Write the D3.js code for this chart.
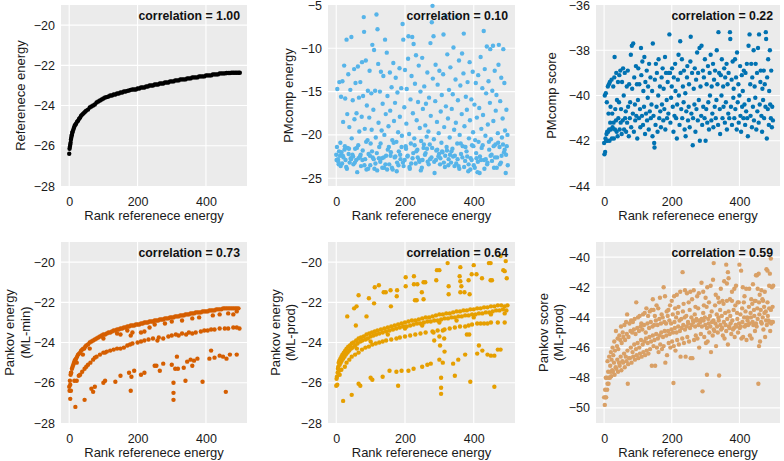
<!DOCTYPE html>
<html><head><meta charset="utf-8">
<script src="https://cdn.jsdelivr.net/npm/d3@7"></script>
<style>body{margin:0;background:#fff} svg text{font-family:"Liberation Sans",Arial,Helvetica,sans-serif}</style>
</head><body><svg id="c" width="784" height="461"></svg>
<script>
// ---------- DATA ----------
const xTicks = [0, 200, 400];
const xLabel = "Rank referenece energy";
const corrLabels = ["correlation = 1.00","correlation = 0.10","correlation = 0.22","correlation = 0.73","correlation = 0.64","correlation = 0.59"];
const refTicks = [-28,-26,-24,-22,-20];
const pmEnergyTicks = [-25,-20,-15,-10,-5];
const pmScoreTicks = [-44,-42,-40,-38,-36];
const pankovTicks = [-28,-26,-24,-22,-20];
const scoreTicks = [-50,-48,-46,-44,-42,-40];

// Panel 1: reference energy vs rank
const refEnergy = [[0,-26.4],[1,-26.15],[2,-26.05],[3,-25.95],[4,-25.85],[5,-25.7],[6,-25.6],[7,-25.5],[8,-25.45],[9,-25.35],[10,-25.3],[12,-25.2],[14,-25.1],[16,-25.0],[18,-24.95],[20,-24.9],[23,-24.8],[26,-24.75],[29,-24.65],[32,-24.6],[35,-24.5],[38,-24.45],[41,-24.4],[44,-24.35],[47,-24.3],[50,-24.25],[55,-24.2],[60,-24.1],[65,-24.05],[70,-24.0],[75,-23.95],[80,-23.85],[85,-23.8],[90,-23.75],[95,-23.7],[100,-23.65],[105,-23.6],[110,-23.58],[115,-23.55],[120,-23.5],[125,-23.5],[130,-23.45],[135,-23.45],[140,-23.4],[145,-23.4],[150,-23.35],[155,-23.35],[160,-23.3],[165,-23.3],[170,-23.27],[175,-23.25],[180,-23.22],[185,-23.2],[190,-23.2],[195,-23.2],[200,-23.15],[205,-23.15],[210,-23.1],[215,-23.1],[220,-23.1],[225,-23.05],[230,-23.05],[235,-23.0],[240,-23.0],[245,-23.0],[250,-22.95],[255,-22.95],[260,-22.95],[265,-22.9],[270,-22.9],[275,-22.9],[280,-22.85],[285,-22.85],[290,-22.85],[295,-22.8],[300,-22.8],[305,-22.8],[310,-22.75],[315,-22.75],[320,-22.75],[325,-22.7],[330,-22.7],[335,-22.7],[340,-22.7],[345,-22.65],[350,-22.65],[355,-22.65],[360,-22.6],[365,-22.6],[370,-22.6],[375,-22.6],[380,-22.55],[385,-22.55],[390,-22.55],[395,-22.55],[400,-22.5],[405,-22.5],[410,-22.5],[415,-22.5],[420,-22.45],[425,-22.45],[430,-22.45],[435,-22.45],[440,-22.4],[445,-22.4],[450,-22.4],[455,-22.4],[460,-22.38],[465,-22.38],[470,-22.38],[475,-22.37],[480,-22.37],[485,-22.37],[490,-22.37],[495,-22.37],[499,-22.37]];

// Panel 2: PMcomp energy
const pmcompEnergy = [[0,-22.3],[2,-21.4],[3,-14.7],[5,-22.8],[6,-23.1],[8,-21.9],[9,-13.9],[11,-22.4],[12,-20.9],[14,-15.6],[15,-22.0],[17,-23.3],[18,-13.8],[20,-18.5],[21,-22.6],[23,-12.0],[24,-21.7],[26,-15.8],[27,-22.9],[29,-23.7],[30,-9.0],[32,-17.6],[33,-21.5],[35,-13.0],[36,-22.2],[38,-19.1],[39,-23.2],[41,-14.8],[42,-22.7],[44,-8.7],[45,-20.4],[47,-22.3],[48,-16.0],[50,-23.4],[52,-12.4],[53,-18.2],[55,-21.6],[56,-14.0],[58,-22.9],[59,-17.5],[61,-24.3],[63,-12.1],[64,-21.2],[66,-15.7],[67,-19.6],[69,-22.5],[70,-13.9],[72,-23.6],[74,-17.9],[75,-11.6],[77,-21.8],[78,-15.5],[80,-6.4],[81,-8.1],[83,-19.3],[84,-22.8],[86,-11.4],[88,-24.0],[89,-16.6],[91,-20.6],[92,-14.9],[94,-22.2],[96,-18.0],[97,-12.6],[99,-23.5],[100,-21.0],[102,-15.2],[103,-19.4],[105,-9.6],[106,-22.6],[108,-17.1],[110,-10.2],[111,-23.9],[113,-14.9],[115,-20.3],[117,-6.1],[118,-22.1],[120,-7.8],[122,-11.8],[123,-18.6],[125,-21.4],[127,-15.0],[128,-23.1],[130,-12.7],[132,-19.5],[133,-22.7],[135,-16.4],[137,-13.2],[139,-23.8],[140,-20.0],[142,-9.0],[144,-17.6],[145,-22.4],[147,-10.5],[149,-15.5],[150,-21.7],[152,-19.0],[154,-23.4],[156,-12.8],[157,-17.2],[159,-22.0],[161,-14.5],[163,-20.6],[164,-24.0],[166,-11.7],[168,-18.4],[170,-22.6],[171,-16.3],[173,-13.4],[175,-20.8],[177,-23.2],[178,-15.1],[180,-19.7],[182,-21.9],[184,-12.3],[185,-17.9],[187,-22.8],[189,-14.6],[191,-20.1],[193,-7.2],[195,-9.0],[196,-23.6],[198,-16.8],[200,-12.5],[202,-21.3],[204,-18.7],[205,-14.7],[207,-22.5],[209,-11.2],[210,-8.6],[212,-19.9],[214,-23.9],[216,-15.9],[217,-21.0],[219,-13.2],[221,-8.7],[223,-17.5],[224,-22.1],[225,-9.5],[227,-20.4],[229,-14.1],[231,-23.3],[232,-10.8],[234,-18.3],[236,-21.7],[238,-16.2],[240,-12.0],[241,-22.9],[243,-19.2],[245,-15.0],[247,-20.7],[249,-23.8],[250,-11.1],[252,-17.0],[254,-21.5],[256,-14.4],[258,-22.3],[259,-18.9],[261,-16.4],[263,-20.2],[265,-12.8],[266,-23.1],[268,-19.6],[270,-15.7],[272,-21.1],[274,-9.4],[275,-17.8],[277,-22.6],[278,-7.0],[280,-5.1],[281,-13.5],[283,-8.6],[284,-20.5],[286,-24.4],[288,-16.1],[289,-11.9],[291,-21.8],[293,-18.5],[295,-14.2],[297,-22.5],[298,-19.8],[300,-12.6],[302,-23.4],[304,-17.3],[306,-20.9],[307,-15.4],[309,-22.0],[311,-13.0],[312,-8.4],[314,-19.1],[316,-23.7],[318,-6.3],[319,-16.7],[321,-21.4],[323,-10.7],[325,-18.1],[327,-22.8],[328,-14.8],[330,-20.3],[332,-12.2],[334,-23.2],[336,-17.0],[338,-21.6],[339,-15.3],[341,-9.9],[343,-19.4],[345,-22.4],[347,-13.6],[348,-18.6],[350,-6.4],[352,-21.0],[354,-16.0],[356,-23.6],[357,-11.4],[359,-20.0],[361,-14.3],[363,-22.2],[365,-17.6],[366,-10.6],[368,-21.3],[370,-12.9],[371,-8.3],[373,-19.0],[375,-23.0],[377,-15.6],[379,-21.9],[380,-17.1],[382,-13.9],[384,-24.2],[386,-20.4],[388,-11.6],[389,-18.3],[391,-22.7],[393,-15.9],[395,-21.2],[397,-12.7],[398,-19.7],[400,-23.5],[402,-16.5],[404,-20.6],[406,-14.0],[407,-22.1],[409,-18.0],[411,-24.3],[413,-13.1],[414,-20.8],[416,-16.9],[418,-22.5],[420,-11.0],[422,-19.3],[423,-21.5],[425,-14.6],[427,-17.7],[429,-8.0],[430,-22.9],[432,-12.4],[434,-20.1],[436,-15.2],[438,-9.8],[439,-23.4],[441,-18.8],[443,-13.8],[445,-21.7],[447,-16.3],[448,-10.1],[450,-20.5],[452,-22.3],[454,-14.9],[456,-9.7],[457,-18.4],[459,-23.8],[461,-12.6],[463,-21.1],[464,-17.2],[466,-15.4],[468,-22.6],[470,-19.8],[472,-11.9],[473,-9.6],[475,-21.4],[477,-16.1],[479,-23.2],[480,-13.4],[482,-20.3],[484,-18.1],[486,-10.1],[488,-22.0],[489,-14.0],[491,-19.5],[493,-24.4],[495,-17.1],[496,-21.3],[498,-20.0],
[1,-22.9],[7,-23.4],[13,-23.6],[19,-22.4],[25,-21.3],[31,-23.9],[37,-21.6],[43,-22.8],[49,-22.5],[54,-23.2],[60,-21.5],[65,-22.7],[71,-22.3],[76,-22.9],[82,-23.5],[87,-20.8],[93,-23.9],[98,-22.4],[104,-21.9],[109,-22.8],[114,-23.3],[119,-24.1],[124,-22.7],[129,-21.0],[134,-23.8],[138,-22.6],[143,-23.4],[148,-24.0],[153,-21.4],[158,-22.4],[162,-23.8],[167,-20.9],[172,-22.5],[176,-24.2],[181,-23.5],[186,-22.3],[190,-21.4],[194,-23.2],[199,-22.9],[203,-21.6],[208,-22.4],[213,-23.7],[218,-23.3],[222,-22.7],[228,-21.2],[233,-21.9],[237,-22.6],[242,-23.1],[246,-24.1],[251,-22.9],[255,-21.1],[260,-22.1],[264,-21.6],[269,-23.4],[273,-22.8],[279,-21.5],[285,-23.1],[290,-22.9],[294,-21.7],[299,-22.2],[303,-22.7],[308,-21.9],[313,-23.2],[317,-22.4],[322,-21.8],[326,-23.5],[331,-22.3],[335,-21.9],[340,-22.5],[344,-23.6],[349,-23.3],[353,-22.8],[358,-23.9],[362,-21.0],[367,-22.6],[372,-23.7],[376,-21.4],[381,-22.5],[385,-23.4],[390,-24.0],[394,-22.9],[399,-21.3],[403,-23.8],[408,-22.7],[412,-23.1],[417,-24.4],[421,-22.9],[426,-21.2],[431,-23.9],[435,-22.8],[440,-23.2],[444,-20.8],[449,-22.4],[453,-23.0],[458,-21.3],[462,-22.6],[467,-23.8],[471,-20.9],[476,-23.4],[481,-22.4],[485,-21.1],[490,-21.7],[494,-22.3],[499,-23.5]];

// Panel 3: PMcomp score
const pmcompScore = [[0,-42.1],[1,-42.6],[2,-40.0],[3,-42.5],[4,-41.9],[5,-39.9],[6,-42.0],[7,-41.7],[8,-40.3],[9,-41.6],[10,-42.0],[11,-39.6],[12,-41.6],[13,-40.8],[14,-39.5],[15,-41.5],[16,-42.0],[17,-39.4],[18,-41.2],[19,-40.5],[20,-41.5],[22,-39.3],[23,-41.9],[24,-40.8],[25,-41.4],[27,-39.6],[28,-41.2],[29,-41.9],[30,-39.2],[31,-38.3],[32,-41.5],[33,-40.6],[35,-41.1],[36,-39.0],[37,-41.6],[38,-40.2],[40,-41.8],[41,-39.4],[42,-41.0],[44,-40.3],[45,-39.1],[46,-41.5],[48,-38.9],[49,-41.2],[50,-40.6],[52,-41.7],[53,-39.4],[55,-41.1],[56,-38.8],[58,-40.0],[59,-41.5],[61,-39.0],[62,-41.0],[64,-40.7],[65,-41.6],[67,-39.6],[68,-41.2],[70,-38.9],[71,-40.5],[73,-41.8],[74,-39.5],[76,-41.0],[77,-40.3],[79,-38.2],[80,-41.4],[82,-37.8],[83,-39.7],[85,-40.8],[86,-37.7],[88,-41.6],[89,-39.2],[91,-40.4],[92,-41.1],[94,-38.7],[95,-40.9],[97,-39.5],[98,-41.9],[100,-40.2],[101,-38.8],[103,-41.0],[104,-39.5],[106,-40.6],[107,-41.4],[109,-37.9],[110,-39.1],[112,-40.9],[113,-38.5],[115,-41.3],[116,-39.8],[118,-40.5],[119,-38.3],[121,-41.7],[122,-39.4],[124,-40.8],[126,-38.9],[127,-41.1],[129,-40.1],[130,-39.6],[132,-41.5],[133,-38.6],[135,-40.7],[137,-39.2],[138,-41.0],[140,-40.4],[142,-39.8],[143,-41.8],[144,-37.7],[146,-40.9],[148,-42.1],[149,-42.3],[150,-39.3],[152,-41.3],[153,-38.6],[155,-40.5],[156,-39.0],[158,-41.6],[160,-40.0],[161,-38.4],[163,-41.0],[165,-39.6],[166,-40.7],[168,-41.4],[170,-39.2],[171,-40.4],[173,-38.8],[175,-41.1],[176,-39.7],[178,-40.6],[180,-38.3],[181,-41.5],[183,-39.0],[185,-40.2],[186,-41.0],[188,-39.4],[190,-40.8],[191,-39.0],[193,-37.3],[195,-39.0],[196,-41.2],[198,-40.1],[200,-39.6],[201,-38.8],[203,-40.5],[205,-41.6],[206,-39.2],[208,-40.9],[210,-38.6],[211,-39.8],[213,-41.0],[215,-41.9],[216,-40.4],[218,-39.3],[220,-38.2],[221,-40.0],[223,-41.3],[225,-37.6],[226,-39.0],[228,-40.6],[230,-38.4],[231,-41.0],[233,-39.6],[235,-40.3],[236,-38.9],[238,-41.5],[240,-39.9],[241,-41.8],[243,-40.7],[245,-39.2],[246,-38.7],[248,-41.1],[250,-40.5],[251,-39.5],[253,-41.4],[255,-38.5],[256,-37.4],[258,-40.8],[260,-39.0],[262,-42.2],[263,-41.0],[265,-39.7],[267,-40.4],[268,-38.8],[270,-41.6],[272,-39.3],[273,-40.6],[275,-38.1],[277,-41.1],[278,-39.0],[280,-40.2],[282,-37.9],[283,-42.0],[285,-39.6],[287,-40.9],[288,-37.8],[290,-41.3],[292,-38.9],[293,-40.5],[295,-39.2],[297,-41.0],[298,-38.4],[300,-42.0],[302,-40.6],[303,-39.5],[305,-41.2],[307,-38.7],[308,-40.3],[310,-41.5],[312,-39.0],[313,-40.0],[315,-38.2],[317,-41.1],[318,-39.6],[320,-40.8],[322,-38.6],[323,-41.4],[325,-39.3],[327,-40.5],[328,-38.9],[330,-41.0],[332,-40.2],[333,-38.0],[335,-39.5],[337,-41.3],[338,-37.2],[340,-39.0],[342,-40.6],[343,-41.7],[345,-39.1],[347,-40.0],[348,-38.4],[350,-41.0],[352,-39.6],[353,-40.5],[355,-38.8],[357,-41.2],[358,-39.2],[360,-40.3],[362,-38.6],[363,-41.5],[365,-39.5],[367,-40.8],[368,-39.0],[370,-41.0],[372,-37.2],[373,-37.5],[375,-40.5],[377,-39.3],[378,-41.3],[380,-38.5],[382,-40.1],[383,-39.7],[385,-41.0],[387,-38.4],[388,-40.6],[390,-39.2],[392,-41.5],[393,-38.1],[395,-40.3],[397,-39.5],[398,-41.2],[400,-40.0],[402,-38.7],[403,-40.9],[405,-41.6],[407,-39.1],[408,-40.5],[410,-39.8],[412,-41.0],[413,-38.9],[415,-40.4],[417,-41.3],[418,-39.0],[420,-40.7],[422,-38.6],[423,-41.0],[425,-41.8],[427,-37.8],[428,-40.2],[430,-37.3],[432,-39.5],[433,-40.9],[435,-38.6],[437,-41.4],[438,-39.2],[440,-40.5],[442,-38.0],[443,-41.1],[445,-39.6],[447,-40.1],[448,-38.6],[450,-41.5],[452,-39.0],[453,-40.7],[455,-37.9],[457,-41.2],[458,-37.3],[460,-40.4],[462,-39.4],[463,-38.9],[465,-40.9],[467,-41.6],[468,-39.7],[470,-40.2],[472,-38.9],[473,-41.0],[475,-39.5],[477,-40.5],[478,-37.2],[479,-37.5],[481,-41.9],[482,-39.2],[484,-40.6],[485,-38.4],[487,-41.3],[488,-39.8],[490,-38.0],[491,-40.4],[493,-41.0],[494,-38.9],[496,-41.4],[497,-40.5],[499,-41.1]];

// Panel 4: Pankov energy (ML-min)
const pankovMin = [[0,-26.2],[1,-26.4],[2,-25.9],[3,-26.1],[4,-25.6],[5,-25.5],[6,-25.5],[8,-25.3],[10,-25.2],[12,-25.1],[14,-25.0],[16,-24.9],[18,-24.85],[20,-24.8],[23,-24.7],[26,-24.6],[29,-24.55],[32,-24.5],[35,-24.4],[38,-24.35],[41,-24.3],[44,-24.3],[47,-24.2],[50,-24.15],[55,-24.1],[60,-24.0],[65,-23.95],[70,-23.9],[75,-23.85],[80,-23.8],[85,-23.75],[90,-23.7],[95,-23.65],[100,-23.6],[105,-23.6],[110,-23.55],[115,-23.5],[120,-23.5],[125,-23.45],[130,-23.4],[135,-23.4],[140,-23.35],[145,-23.35],[150,-23.3],[155,-23.3],[160,-23.25],[165,-23.25],[170,-23.2],[175,-23.2],[180,-23.15],[185,-23.15],[190,-23.15],[195,-23.1],[200,-23.1],[205,-23.1],[210,-23.05],[215,-23.05],[220,-23.0],[225,-23.0],[230,-23.0],[235,-22.95],[240,-22.95],[245,-22.95],[250,-22.9],[255,-22.9],[260,-22.9],[265,-22.85],[270,-22.85],[275,-22.85],[280,-22.8],[285,-22.8],[290,-22.8],[295,-22.75],[300,-22.75],[305,-22.75],[310,-22.7],[315,-22.7],[320,-22.7],[325,-22.65],[330,-22.65],[335,-22.65],[340,-22.6],[345,-22.6],[350,-22.6],[355,-22.55],[360,-22.55],[365,-22.55],[370,-22.5],[375,-22.5],[380,-22.5],[385,-22.5],[390,-22.45],[395,-22.45],[400,-22.45],[405,-22.45],[410,-22.4],[415,-22.4],[420,-22.4],[425,-22.4],[430,-22.35],[435,-22.35],[440,-22.35],[445,-22.35],[450,-22.3],[455,-22.3],[460,-22.3],[465,-22.3],[470,-22.3],[475,-22.3],[480,-22.3],[485,-22.3],[490,-22.3],[495,-22.3],
[22,-25.0],[40,-24.6],[60,-24.3],[100,-23.8],[140,-23.55],[150,-23.6],[170,-23.4],[180,-23.65],[185,-23.5],[210,-23.5],[220,-23.45],[235,-23.25],[250,-23.1],[280,-23.05],[300,-22.95],[330,-22.9],[360,-22.8],[380,-22.75],[420,-22.65],[440,-22.6],[465,-22.55],[480,-22.6],[490,-22.45],
[3,-26.8],[5,-26.4],[15,-25.9],[22,-25.9],[28,-25.65],[32,-25.6],[38,-25.45],[45,-25.3],[50,-25.2],[55,-25.1],[62,-25.0],[70,-24.85],[75,-24.75],[80,-24.7],[90,-24.6],[100,-24.5],[105,-24.5],[110,-24.45],[120,-24.4],[130,-24.35],[140,-24.3],[150,-24.3],[160,-24.25],[170,-24.15],[178,-24.1],[185,-24.05],[200,-24.0],[210,-23.95],[220,-23.9],[232,-23.85],[245,-23.8],[258,-23.9],[262,-23.75],[275,-23.8],[290,-23.7],[300,-23.65],[312,-23.6],[320,-23.65],[330,-23.55],[342,-23.6],[350,-23.5],[360,-23.55],[370,-23.5],[385,-23.45],[395,-23.4],[405,-23.4],[415,-23.35],[425,-23.35],[440,-23.3],[455,-23.3],[465,-23.3],[480,-23.25],[490,-23.25],[498,-23.3],
[18,-27.2],[45,-26.85],[65,-26.3],[70,-26.45],[75,-26.2],[100,-26.0],[105,-25.9],[135,-25.95],[150,-25.65],[175,-25.5],[180,-26.4],[182,-25.7],[190,-25.4],[210,-25.6],[220,-25.5],[250,-25.15],[255,-25.15],[265,-25.4],[275,-25.05],[300,-25.1],[305,-26.0],[305,-26.5],[305,-26.85],[310,-25.3],[315,-24.7],[318,-25.3],[335,-25.25],[340,-25.9],[345,-24.95],[355,-24.85],[360,-25.15],[365,-24.9],[375,-24.8],[390,-25.95],[410,-24.8],[415,-24.4],[425,-24.75],[440,-24.65],[450,-24.7],[458,-26.45],[460,-24.8],[470,-24.6],[490,-24.6]];

// Panel 5: Pankov energy (ML-prod)
const pankovProd = [[0,-26.15],[1,-25.8],[2,-25.7],[3,-26.1],[4,-25.5],[5,-25.3],[6,-25.2],[7,-25.0],[8,-25.4],[9,-24.9],[10,-25.1],[12,-24.8],[13,-25.0],[15,-24.7],[16,-24.9],[18,-24.6],[20,-24.8],[22,-24.5],[24,-24.7],[26,-24.4],[28,-24.6],[30,-24.3],[33,-24.5],[35,-24.2],[38,-24.4],[40,-24.15],[43,-24.3],[45,-24.05],[48,-24.25],[50,-24.0],[55,-24.15],[58,-23.9],[62,-24.05],[65,-23.8],[70,-23.95],[72,-23.75],[76,-23.9],[80,-23.7],[85,-23.85],[88,-23.6],[92,-23.8],[96,-23.55],[100,-23.7],[104,-23.5],[108,-23.65],[112,-23.45],[116,-23.6],[120,-23.4],[125,-23.55],[130,-23.35],[135,-23.5],[140,-23.3],[145,-23.45],[150,-23.25],[155,-23.4],[160,-23.2],[165,-23.35],[170,-23.15],[175,-23.3],[180,-23.1],[185,-23.25],[190,-23.05],[195,-23.2],[200,-23.0],[205,-23.2],[210,-22.95],[215,-23.15],[220,-22.9],[225,-23.1],[230,-22.9],[235,-23.05],[240,-22.85],[245,-23.05],[250,-22.8],[255,-23.0],[260,-22.75],[265,-22.95],[270,-22.75],[275,-22.95],[280,-22.7],[285,-22.9],[290,-22.65],[295,-22.9],[300,-22.6],[305,-22.85],[310,-22.6],[315,-22.8],[320,-22.55],[325,-22.8],[330,-22.55],[335,-22.75],[340,-22.5],[345,-22.75],[350,-22.45],[355,-22.7],[360,-22.45],[365,-22.7],[370,-22.4],[375,-22.65],[380,-22.4],[385,-22.65],[390,-22.35],[395,-22.6],[400,-22.35],[405,-22.6],[410,-22.3],[415,-22.55],[420,-22.3],[425,-22.55],[430,-22.25],[435,-22.5],[440,-22.25],[445,-22.5],[450,-22.2],[455,-22.45],[460,-22.2],[465,-22.4],[470,-22.15],[475,-22.4],[480,-22.15],[485,-22.35],[490,-22.2],[495,-22.4],[498,-22.15],
[60,-24.3],[100,-23.95],[150,-23.6],[200,-23.3],[250,-23.15],[300,-23.0],[350,-22.9],[400,-22.75],[450,-22.6],[490,-22.55],
[10,-25.6],[15,-25.35],[25,-25.2],[30,-25.0],[38,-24.85],[45,-24.7],[55,-24.6],[65,-24.5],[75,-24.35],[85,-24.25],[95,-24.2],[105,-24.1],[115,-24.05],[125,-24.0],[135,-23.95],[145,-23.9],[160,-23.85],[175,-23.8],[185,-23.75],[200,-23.7],[215,-23.65],[230,-23.6],[245,-23.55],[260,-23.5],[280,-23.45],[283,-23.5],[285,-23.9],[295,-23.4],[300,-23.7],[302,-24.15],[310,-23.4],[314,-23.8],[315,-23.35],[330,-23.3],[345,-23.25],[360,-23.2],[375,-23.2],[380,-23.6],[385,-23.15],[387,-23.6],[395,-23.1],[410,-23.05],[420,-23.05],[430,-23.05],[440,-23.05],[450,-23.0],[470,-23.0],[490,-23.0],
[20,-26.9],[45,-26.6],[65,-26.05],[70,-26.15],[100,-25.75],[105,-25.85],[135,-25.7],[155,-25.4],[175,-25.45],[180,-26.15],[190,-25.4],[210,-25.4],[225,-25.3],[250,-25.2],[265,-25.1],[275,-25.05],[300,-24.85],[305,-25.75],[305,-26.25],[305,-26.55],[310,-25.0],[315,-24.45],[340,-25.05],[345,-25.65],[355,-24.85],[375,-24.6],[390,-25.95],[410,-24.55],[415,-24.15],[425,-24.4],[440,-24.6],[450,-24.65],[460,-24.65],[460,-26.2],[470,-24.35],[478,-24.35],
[32,-22.7],[52,-22.3],[59,-22.2],[65,-21.65],[57,-23.15],[88,-22.7],[95,-21.8],[110,-22.05],[112,-21.25],[124,-21.15],[138,-21.5],[144,-21.5],[158,-21.4],[159,-22.2],[176,-21.7],[177,-21.4],[202,-20.75],[202,-21.2],[226,-20.7],[226,-21.1],[229,-21.9],[234,-21.9],[236,-21.1],[249,-21.5],[254,-21.0],[259,-21.0],[254,-21.85],[291,-20.9],[293,-20.4],[300,-20.4],[324,-20.05],[327,-21.2],[327,-21.6],[359,-20.7],[361,-20.25],[361,-20.95],[361,-21.5],[364,-21.2],[373,-21.5],[385,-20.9],[388,-21.6],[394,-20.6],[400,-20.15],[408,-20.6],[424,-20.8],[444,-20.05],[449,-20.05],[449,-20.9],[453,-20.9],[478,-19.7],[490,-20.45],[496,-20.8],[493,-19.95],[486,-20.4]];

// Panel 6: Pankov score (ML-prod)
const pankovScore = [[5,-48.0],[10,-46.9],[15,-46.6],[20,-46.3],[25,-46.0],[30,-45.6],[35,-44.9],[40,-45.4],[45,-45.2],[50,-44.6],[55,-45.0],[60,-44.5],[65,-44.3],[68,-43.8],[75,-44.4],[80,-44.2],[85,-44.3],[90,-44.1],[95,-43.0],[100,-44.0],[105,-43.9],[110,-44.4],[115,-43.8],[120,-43.7],[125,-43.4],[130,-43.9],[135,-43.6],[140,-43.5],[144,-42.8],[146,-43.5],[150,-43.9],[155,-43.2],[160,-43.4],[165,-42.7],[170,-43.8],[176,-42.0],[180,-42.6],[185,-43.6],[190,-43.5],[195,-43.2],[200,-42.9],[207,-42.6],[210,-43.4],[215,-42.5],[220,-43.3],[225,-42.3],[232,-41.0],[235,-43.1],[239,-42.2],[245,-42.4],[250,-43.0],[255,-42.3],[260,-42.8],[265,-42.2],[270,-43.3],[275,-42.6],[280,-42.4],[288,-41.7],[293,-42.3],[295,-43.2],[300,-42.7],[305,-42.0],[310,-43.0],[315,-41.9],[322,-41.5],[324,-40.4],[330,-42.5],[337,-42.7],[340,-43.0],[345,-42.1],[350,-42.9],[355,-41.6],[361,-40.5],[363,-41.75],[366,-41.0],[368,-41.4],[372,-42.8],[378,-42.3],[385,-42.1],[390,-41.9],[395,-43.0],[400,-40.5],[405,-40.9],[410,-42.0],[415,-42.6],[420,-42.1],[429,-42.1],[435,-42.8],[440,-41.8],[445,-42.9],[449,-41.2],[452,-41.2],[454,-42.1],[457,-41.1],[460,-42.5],[465,-42.2],[470,-42.9],[475,-42.3],[480,-40.8],[483,-40.9],[488,-41.9],[490,-41.1],[493,-40.1],[496,-42.0],[500,-41.9],
[0,-49.3],[3,-48.8],[8,-48.0],[12,-47.6],[18,-47.2],[22,-46.8],[27,-46.5],[32,-46.2],[38,-45.9],[42,-46.1],[48,-45.5],[52,-45.7],[57,-45.3],[62,-45.5],[67,-45.1],[72,-45.3],[78,-44.9],[83,-45.0],[88,-44.8],[93,-45.1],[98,-44.7],[103,-44.9],[108,-44.6],[113,-44.8],[118,-44.5],[123,-45.0],[128,-44.4],[133,-44.7],[138,-44.3],[143,-44.6],[148,-44.5],[153,-44.2],[158,-44.5],[163,-44.1],[168,-44.4],[173,-44.0],[178,-44.3],[183,-44.4],[188,-43.9],[193,-44.2],[198,-44.4],[203,-43.8],[208,-44.3],[213,-44.0],[218,-43.7],[223,-44.2],[228,-44.1],[233,-43.6],[238,-44.0],[243,-43.9],[248,-44.3],[253,-43.5],[258,-44.0],[263,-44.2],[268,-43.8],[273,-44.1],[278,-43.4],[283,-44.2],[288,-44.1],[293,-43.7],[298,-44.0],[303,-43.3],[308,-44.1],[313,-43.9],[318,-43.6],[323,-44.2],[328,-43.2],[333,-43.8],[338,-44.0],[343,-43.5],[348,-43.9],[353,-43.1],[358,-43.7],[363,-42.9],[368,-43.6],[373,-43.9],[378,-42.9],[383,-43.5],[388,-43.2],[393,-43.7],[398,-43.0],[403,-43.8],[408,-43.4],[413,-43.0],[418,-43.6],[423,-44.0],[428,-43.3],[433,-43.7],[438,-43.1],[443,-43.5],[448,-42.9],[453,-43.4],[458,-43.0],[463,-43.5],[468,-42.8],[473,-43.3],[478,-43.6],[483,-43.0],[488,-43.4],[493,-43.5],[498,-43.3],
[2,-49.8],[6,-49.3],[10,-48.4],[14,-48.0],[19,-47.6],[24,-47.5],[29,-47.0],[34,-47.3],[39,-46.8],[44,-47.0],[49,-46.6],[54,-46.9],[59,-46.4],[64,-46.6],[69,-46.2],[74,-46.7],[79,-46.0],[84,-46.3],[89,-45.8],[94,-46.1],[99,-45.7],[104,-46.0],[109,-45.5],[114,-45.8],[119,-45.6],[124,-45.4],[129,-45.7],[134,-45.3],[139,-45.6],[144,-45.2],[149,-45.5],[154,-45.1],[159,-45.4],[164,-45.2],[169,-45.0],[174,-45.3],[179,-44.9],[184,-45.2],[189,-44.9],[194,-45.1],[199,-44.8],[204,-45.0],[209,-44.7],[214,-45.0],[219,-44.6],[224,-44.9],[229,-44.7],[234,-44.5],[239,-44.8],[244,-44.6],[249,-44.4],[254,-44.7],[259,-44.5],[264,-44.3],[269,-44.6],[274,-44.2],[279,-44.5],[284,-44.3],[289,-44.6],[294,-44.2],[299,-44.5],[304,-44.7],[309,-44.4],[314,-44.6],[319,-44.3],[324,-44.8],[329,-44.4],[334,-44.6],[339,-44.2],[344,-44.5],[349,-44.7],[354,-44.3],[359,-44.5],[364,-44.1],[369,-44.6],[374,-44.4],[379,-44.2],[384,-44.7],[389,-44.5],[394,-44.1],[399,-44.4],[404,-44.6],[409,-44.3],[414,-44.0],[419,-44.5],[424,-44.2],[429,-44.4],[434,-44.0],[439,-44.3],[444,-43.9],[449,-44.4],[454,-44.1],[459,-43.8],[464,-44.3],[469,-44.0],[474,-43.7],[479,-44.2],[484,-43.9],[489,-44.3],[494,-44.4],[499,-44.3],
[4,-49.3],[9,-48.8],[13,-48.4],[17,-48.0],[21,-47.9],[26,-47.6],[31,-47.8],[36,-47.4],[41,-47.6],[46,-47.2],[51,-47.5],[56,-47.0],[61,-47.3],[66,-46.9],[70,-48.4],[71,-47.1],[76,-46.7],[81,-47.0],[86,-46.6],[91,-46.8],[96,-46.5],[101,-46.7],[106,-46.4],[111,-46.6],[116,-46.3],[121,-46.5],[126,-46.2],[131,-46.4],[136,-46.1],[141,-47.2],[146,-45.9],[151,-47.2],[156,-46.0],[161,-46.3],[166,-45.8],[171,-46.1],[176,-45.9],[181,-47.0],[186,-46.5],[191,-45.7],[196,-46.0],[201,-45.6],[205,-48.35],[206,-45.9],[211,-46.2],[216,-45.5],[221,-45.8],[226,-46.6],[231,-45.4],[236,-45.7],[241,-46.6],[246,-45.3],[251,-45.6],[256,-46.7],[261,-46.7],[266,-45.5],[271,-45.2],[276,-45.4],[281,-46.0],[286,-45.1],[291,-48.9],[296,-45.3],[301,-45.7],[304,-47.8],[306,-45.6],[311,-45.0],[316,-46.3],[321,-45.2],[326,-44.9],[331,-45.9],[336,-45.0],[340,-47.85],[346,-44.8],[351,-45.2],[356,-45.4],[361,-44.9],[366,-45.8],[371,-44.7],[376,-45.1],[381,-44.8],[386,-45.3],[391,-44.6],[396,-45.0],[401,-44.7],[406,-45.4],[411,-45.3],[416,-44.6],[421,-45.5],[426,-44.5],[431,-45.2],[436,-45.4],[441,-44.5],[446,-44.9],[451,-44.6],[456,-48.4],[458,-45.9],[461,-45.6],[466,-44.4],[471,-44.8],[476,-45.3],[481,-44.5],[486,-44.2],[491,-44.9],[496,-44.3]];

// ---------- LAYOUT ----------
const svg = d3.select("#c");
const colLeft = [61, 328, 596], colW = [186, 187, 184], rowTop = [5, 242], plotH = 181;
const xDomain = [-24, 520];
const panels = [
  {r:0,c:0,data:refEnergy,color:"#000000",yDom:[-28,-19],ticks:refTicks,lab:["Referenece energy"],labX:[20]},
  {r:0,c:1,data:pmcompEnergy,color:"#56B4E9",yDom:[-25.9,-5],ticks:pmEnergyTicks,lab:["PMcomp energy"],labX:[288]},
  {r:0,c:2,data:pmcompScore,color:"#0072B2",yDom:[-44,-36],ticks:pmScoreTicks,lab:["PMcomp score"],labX:[551]},
  {r:1,c:0,data:pankovMin,color:"#D55E00",yDom:[-28,-19],ticks:pankovTicks,lab:["Pankov energy","(ML-min)"],labX:[9,25]},
  {r:1,c:1,data:pankovProd,color:"#E69F00",yDom:[-28,-19],ticks:pankovTicks,lab:["Pankov energy","(ML-prod)"],labX:[275,290]},
  {r:1,c:2,data:pankovScore,color:"#D9A066",yDom:[-51,-39],ticks:scoreTicks,lab:["Pankov score","(ML-prod)"],labX:[543,558]}
];
const fmt = d3.format("d");

panels.forEach((p, i) => {
  const x0 = colLeft[p.c], y0 = rowTop[p.r], w = colW[p.c];
  const x = d3.scaleLinear().domain(xDomain).range([x0, x0 + w]);
  const y = d3.scaleLinear().domain(p.yDom).range([y0 + plotH, y0]);
  const g = svg.append("g");
  g.append("rect").attr("x", x0).attr("y", y0).attr("width", w).attr("height", plotH).attr("fill", "#EBEBEB");
  g.selectAll("line.gx").data(xTicks).join("line").attr("class","gx")
    .attr("x1", d => x(d)).attr("x2", d => x(d)).attr("y1", y0).attr("y2", y0 + plotH)
    .attr("stroke", "#fff").attr("stroke-width", 1.1);
  g.selectAll("line.gy").data(p.ticks.filter(t => y(t) > y0 + 0.5 && y(t) < y0 + plotH - 0.5)).join("line").attr("class","gy")
    .attr("x1", x0).attr("x2", x0 + w).attr("y1", d => y(d)).attr("y2", d => y(d))
    .attr("stroke", "#fff").attr("stroke-width", 1.1);

  g.selectAll("circle").data(p.data).join("circle")
    .attr("cx", d => x(d[0])).attr("cy", d => y(d[1])).attr("r", 2.2)
    .attr("fill", p.color);

  const ax = g.append("g").attr("transform", `translate(0,${y0 + plotH})`)
    .call(d3.axisBottom(x).tickValues(xTicks).tickSize(0).tickPadding(11).tickFormat(fmt));
  ax.select(".domain").remove();
  ax.selectAll("text").attr("font-size", 12.5).attr("fill", "#1a1a1a").attr("font-family", null);

  const ay = g.append("g").attr("transform", `translate(${x0},0)`)
    .call(d3.axisLeft(y).tickValues(p.ticks).tickSize(0).tickPadding(6).tickFormat(fmt));
  ay.select(".domain").remove();
  ay.selectAll("text").attr("font-size", 12.5).attr("fill", "#1a1a1a").attr("font-family", null);

  g.append("text").attr("x", x0 + w / 2).attr("y", y0 + plotH + 33.5)
    .attr("text-anchor", "middle").attr("font-size", 13).attr("fill", "#1a1a1a").text(xLabel);

  p.lab.forEach((t, k) => {
    g.append("text").attr("transform", `translate(${p.labX[k]},${y0 + plotH / 2}) rotate(-90)`)
      .attr("text-anchor", "middle").attr("dy", "0.35em").attr("font-size", 13).attr("fill", "#1a1a1a").text(t);
  });

  g.append("text").attr("x", x0 + w - 7).attr("y", y0 + 14.5)
    .attr("text-anchor", "end").attr("font-size", 12.3).attr("font-weight", "bold").attr("fill", "#111")
    .text(corrLabels[i]);
});
</script></body></html>
